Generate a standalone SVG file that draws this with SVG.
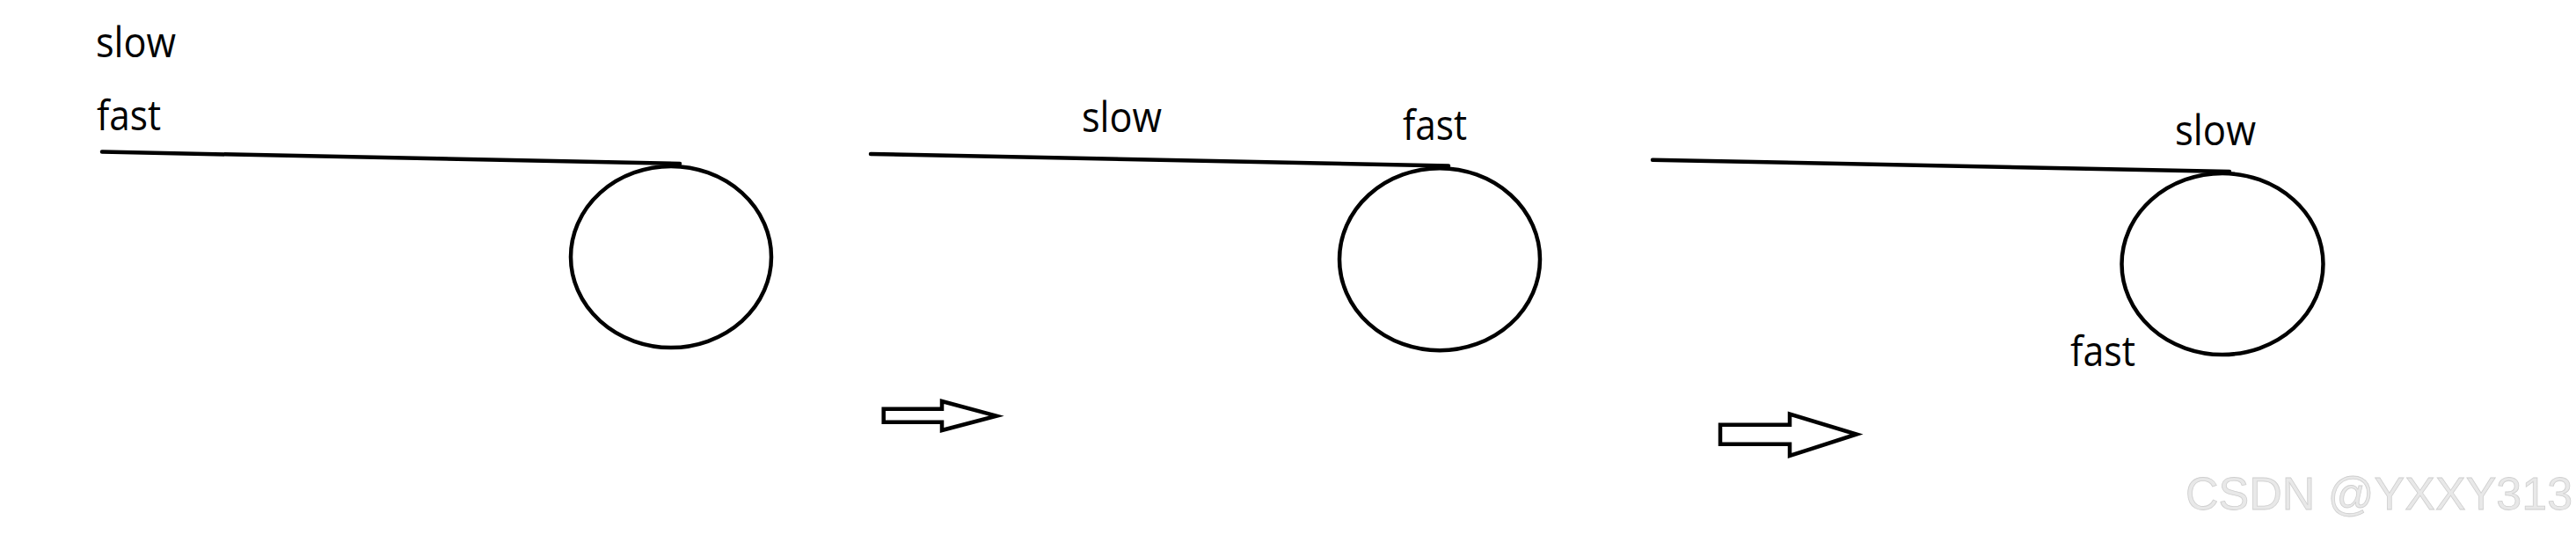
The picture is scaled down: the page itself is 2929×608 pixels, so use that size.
<svg xmlns="http://www.w3.org/2000/svg" width="2929" height="608" viewBox="0 0 2929 608">
<style>
.ink{fill:none;stroke:#000;stroke-width:4.5;stroke-linecap:round;stroke-linejoin:round}
.lbl{font-family:"Open Sans","Noto Sans","Liberation Sans",sans-serif;font-size:47px;fill:#000}
.blk{fill:#fff;stroke:#000;stroke-width:4.5;stroke-linejoin:miter}
.wm{font-family:"Liberation Sans",Arial,sans-serif;font-size:52px;fill:#e8e8e8;stroke:#cfcfcf;stroke-width:0.8}
</style>
<rect width="2929" height="608" fill="#fff"/>
<g id="panel1">
<line class="ink" x1="116" y1="172.5" x2="773" y2="186"/>
<ellipse class="ink" cx="763" cy="292" rx="114" ry="103"/>
<text class="lbl" x="109" y="65" textLength="91" lengthAdjust="spacingAndGlyphs">slow</text>
<text class="lbl" x="110" y="148" textLength="73" lengthAdjust="spacingAndGlyphs">fast</text>
</g>
<g id="panel2">
<line class="ink" x1="990" y1="175" x2="1647" y2="188.5"/>
<ellipse class="ink" cx="1637" cy="294.7" rx="114" ry="103.5"/>
<text class="lbl" x="1230" y="150" textLength="91" lengthAdjust="spacingAndGlyphs">slow</text>
<text class="lbl" x="1595" y="159" textLength="73" lengthAdjust="spacingAndGlyphs">fast</text>
</g>
<g id="panel3">
<line class="ink" x1="1879" y1="181.7" x2="2535" y2="195"/>
<ellipse class="ink" cx="2527" cy="300" rx="114.5" ry="103"/>
<text class="lbl" x="2473" y="165" textLength="92" lengthAdjust="spacingAndGlyphs">slow</text>
<text class="lbl" x="2354" y="416" textLength="74" lengthAdjust="spacingAndGlyphs">fast</text>
</g>
<g id="connectors">
<polygon class="blk" points="1004.7,464.7 1071,464.7 1071,456 1133,472.7 1071,489 1071,479.7 1004.7,479.7"/>
<polygon class="blk" points="1956,482.7 2035,482.7 2035,470.5 2111,493.5 2035,518 2035,504.7 1956,504.7"/>
</g>
<text class="wm" x="2485" y="579">CSDN @YXXY313</text>
</svg>
